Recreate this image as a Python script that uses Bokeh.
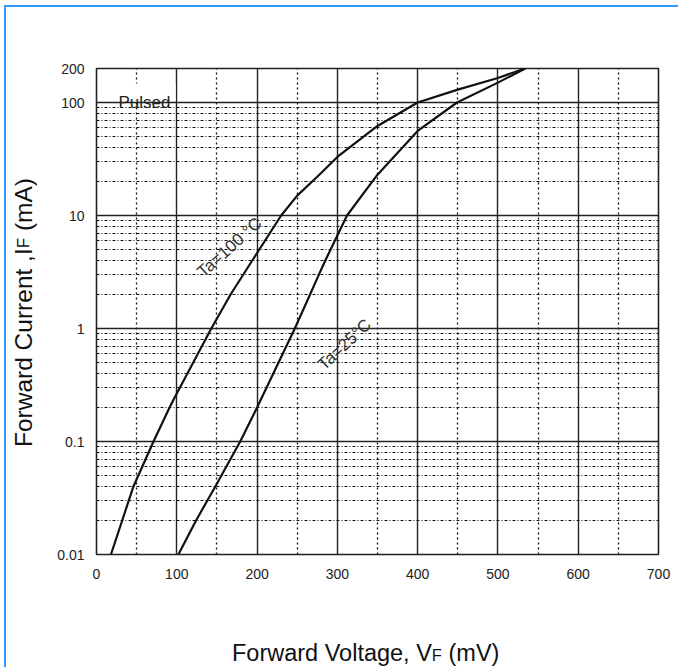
from math import log10
from bokeh.plotting import figure
from bokeh.layouts import column, row
from bokeh.models import FixedTicker, Label, Range1d, BoxAnnotation, Div
from bokeh.embed import file_html
from bokeh.resources import INLINE

# ---- data ----
v_ta100 = [18, 32, 46, 71, 91, 98, 143, 167, 194, 230, 250, 275, 300, 350, 400, 450, 500, 534]
i_ta100 = [0.01, 0.02, 0.04, 0.1, 0.2, 0.25, 1, 2, 4, 10, 15, 22, 33, 62, 100, 130, 165, 200]
v_ta25 = [102, 124, 148, 179, 200, 247, 266, 277, 285, 312, 350, 400, 449, 500, 534]
i_ta25 = [0.01, 0.02, 0.04, 0.1, 0.2, 1, 2, 3, 4, 10, 23, 56, 100, 150, 200]

x_ticks = [0, 100, 200, 300, 400, 500, 600, 700]
x_minor_ticks = [50, 150, 250, 350, 450, 550, 650]
y_ticks = [0.01, 0.1, 1, 10, 100, 200]
y_tick_labels = ["0.01", "0.1", "1", "10", "100", "200"]
y_minor_ticks = [m * d for d in [0.01, 0.1, 1, 10] for m in range(2, 10)]

curve_labels = ["Ta=100 \u00b0C", "Ta=25\u00b0C"]
x_title = ["Forward Voltage, V", "F", " (mV)"]
y_title = ["Forward Current ,I", "F", " (mA)"]

# ---- layout (page pixels; the page itself has no margin) ----
OX, OY = 6, 7                    # content origin inside the blue border
YDIV_W = 36
FRAME_L, FRAME_T, FRAME_W, FRAME_H = 96, 68, 562, 486
P_LEFT = OX + YDIV_W
P_W = 636
P_H = 633
X0, X1 = 0, 700
Y0, Y1 = 0.01, 200
FONT = "Liberation Sans"
BLUE = "#3399FF"


def dx(px):
    return X0 + (px - FRAME_L) / FRAME_W * (X1 - X0)


def dy(py):
    return 10 ** (log10(Y1) - (py - FRAME_T) / FRAME_H * (log10(Y1) - log10(Y0)))


mbl = FRAME_L - P_LEFT
mbt = FRAME_T - OY
p = figure(
    frame_width=FRAME_W, frame_height=FRAME_H,
    x_range=Range1d(X0, X1), y_range=Range1d(Y0, Y1), y_axis_type="log",
    output_backend="svg", toolbar_location=None,
    min_border_left=mbl, min_border_top=mbt,
    min_border_right=P_W - mbl - FRAME_W,
    min_border_bottom=P_H - mbt - FRAME_H,
)
p.background_fill_color = "white"
p.border_fill_color = "white"
p.outline_line_color = "#222222"
p.outline_line_width = 1.6

xt = FixedTicker(ticks=x_ticks, minor_ticks=x_minor_ticks)
yt = FixedTicker(ticks=y_ticks, minor_ticks=y_minor_ticks)
p.xaxis.ticker = xt
p.yaxis.ticker = yt
p.xgrid.ticker = xt
p.ygrid.ticker = yt
p.yaxis.major_label_overrides = dict(zip(y_ticks, y_tick_labels))

for ax in (p.xaxis, p.yaxis):
    ax.axis_line_color = None
    ax.major_tick_line_color = None
    ax.minor_tick_line_color = None
    ax.major_label_text_font = FONT
    ax.major_label_text_font_size = "14px"
    ax.major_label_text_color = "#222222"
p.xaxis.major_label_standoff = 8
p.yaxis.major_label_standoff = 6

p.xgrid.grid_line_color = "#222222"
p.xgrid.grid_line_width = 1.4
p.xgrid.minor_grid_line_color = "#111111"
p.xgrid.minor_grid_line_width = 1.3
p.xgrid.minor_grid_line_dash = "2 3"
p.ygrid.grid_line_color = "#222222"
p.ygrid.grid_line_width = 1.4
p.ygrid.minor_grid_line_color = "#111111"
p.ygrid.minor_grid_line_width = 1.2
p.ygrid.minor_grid_line_dash = "3 2 1 2"

p.line(v_ta100, i_ta100, line_color="#111111", line_width=2.2)
p.line(v_ta25, i_ta25, line_color="#111111", line_width=2.2)

# white patch behind "Pulsed"
p.add_layout(BoxAnnotation(left=dx(116), right=dx(175), top=dy(83), bottom=dy(100.5),
                           fill_color="white", fill_alpha=1, line_color=None))
p.add_layout(Label(x=dx(118), y=100, text="Pulsed", text_font=FONT, text_font_size="17px",
                   text_color="#222222", text_baseline="alphabetic", text_align="left"))

p.add_layout(Label(x=dx(229), y=dy(247), text=curve_labels[0], text_font=FONT,
                   text_font_size="17px", text_color="#333333", text_align="center",
                   text_baseline="middle", angle=42, angle_units="deg"))
p.add_layout(Label(x=dx(344), y=dy(344), text=curve_labels[1], text_font=FONT,
                   text_font_size="17px", text_color="#333333", text_align="center",
                   text_baseline="middle", angle=43, angle_units="deg"))

# ---- axis titles as HTML (small "F") ----
ycenter = 313
inner_h = 2 * (ycenter - OY)
ydiv = Div(
    width=YDIV_W, height=P_H, margin=0,
    text=(f'<div style="width:{YDIV_W}px;height:{inner_h}px;display:flex;align-items:center;'
          f'justify-content:center;">'
          f'<span style="writing-mode:vertical-rl;transform:rotate(180deg);font-family:\'{FONT}\';'
          f'font-size:24.5px;white-space:nowrap;color:#111111;line-height:28px;">'
          f'{y_title[0]}<span style="font-size:17px;">{y_title[1]}</span>{y_title[2]}</span></div>'),
)
xdiv = Div(
    width=YDIV_W + P_W, height=27, margin=0,
    text=(f'<div style="padding-left:{232 - OX}px;font-family:\'{FONT}\';font-size:23.5px;'
          f'line-height:27px;white-space:nowrap;color:#111111;">'
          f'{x_title[0]}<span style="font-size:16.5px;">{x_title[1]}</span>{x_title[2]}</div>'),
)

layout = column(
    row(ydiv, p),
    xdiv,
    styles={"margin-left": "4px", "margin-top": "5px",
            "border-left": f"2px solid {BLUE}", "border-top": f"2px solid {BLUE}"},
)

open("out.html", "w").write(file_html(layout, INLINE))
